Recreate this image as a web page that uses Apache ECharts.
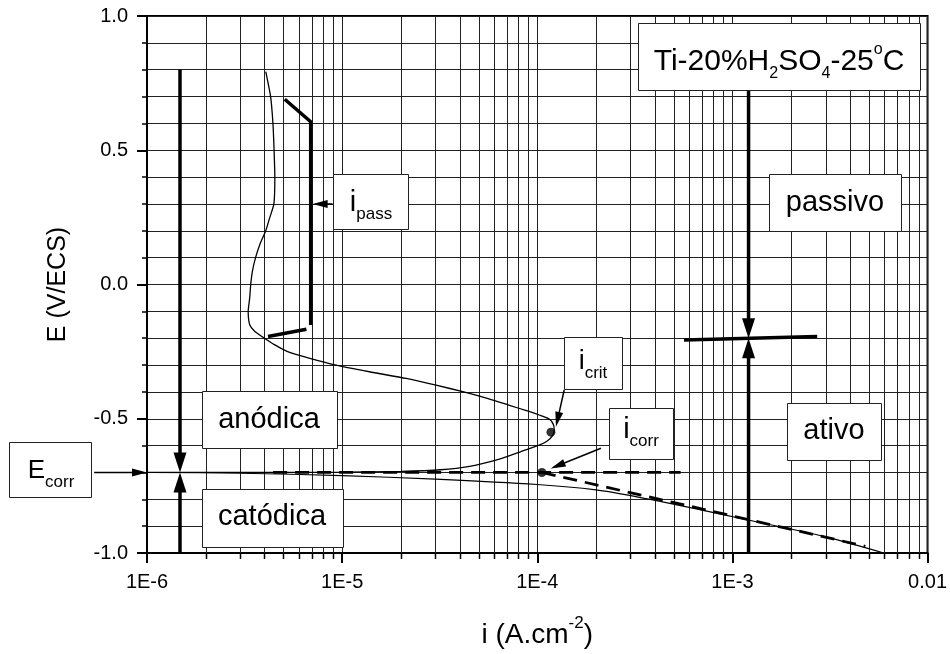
<!DOCTYPE html>
<html>
<head>
<meta charset="utf-8">
<script src="https://cdn.jsdelivr.net/npm/echarts@6/dist/echarts.min.js"></script>
<style>
html, body { margin: 0; padding: 0; background: #fff; }
#chart { width: 950px; height: 654px; }
</style>
</head>
<body>
<div id="chart"></div>
<script>
// Anodic branch of the polarization curve, from E_corr up through the passive region
const anodicI = [1.0e-6, 5.0e-6, 1.0e-5, 2.0e-5, 3.2e-5, 4.5e-5, 6.4e-5, 8.2e-5, 1.023e-4, 1.125e-4, 1.195e-4,
  1.222e-4, 1.207e-4, 1.151e-4, 1.023e-4, 8.8e-5, 7.2e-5, 5.6e-5, 4.2e-5, 3.03e-5, 2.13e-5, 1.38e-5, 9.3e-6,
  6.83e-6, 5.26e-6, 4.52e-6, 4.0e-6, 3.57e-6, 3.36e-6, 3.3e-6, 3.36e-6, 3.4e-6, 3.47e-6, 3.6e-6, 3.79e-6,
  4.06e-6, 4.26e-6, 4.47e-6, 4.52e-6, 4.48e-6, 4.42e-6, 4.3e-6, 4.06e-6];
const anodicE = [-0.700, -0.700, -0.699, -0.696, -0.690, -0.677, -0.650, -0.623, -0.598, -0.583, -0.564,
  -0.542, -0.520, -0.501, -0.486, -0.470, -0.450, -0.425, -0.400, -0.375, -0.350, -0.325, -0.300,
  -0.275, -0.250, -0.225, -0.200, -0.175, -0.150, -0.100, -0.050, 0.000, 0.050, 0.100, 0.150,
  0.200, 0.250, 0.300, 0.400, 0.500, 0.600, 0.700, 0.793];

// Cathodic branch, from E_corr down to -1.0 V
const cathodicI = [1.0e-6, 3.0e-6, 1.0e-5, 3.0e-5, 1.0e-4, 2.0e-4, 3.2e-4, 6.0e-4, 1.2e-3, 3.0e-3, 5.96e-3];
const cathodicE = [-0.700, -0.703, -0.712, -0.725, -0.745, -0.765, -0.790, -0.830, -0.877, -0.940, -1.000];

// Tafel extrapolations (dashed)
const tafelFlatI = [4.43e-6, 5.43e-4];
const tafelFlatE = [-0.700, -0.700];
const tafelCathI = [1.056e-4, 4.8e-3];
const tafelCathE = [-0.700, -0.975];

// Marked points: i_crit and i_corr
const critI = [1.175e-4];
const critE = [-0.550];
const corrI = [1.056e-4];
const corrE = [-0.700];

// i_pass construction lines
const passLineI = [5.08e-6, 6.9e-6, 6.9e-6];
const passLineE = [0.690, 0.606, -0.151];
const passBaseI = [4.17e-6, 6.56e-6];
const passBaseE = [-0.194, -0.167];

// active / passive boundary marker
const boundaryI = [5.65e-4, 2.72e-3];
const boundaryE = [-0.207, -0.194];

// Arrows [i_from, E_from, i_to, E_to]
const bigArrows = [
  [1.476e-6, 0.800, 1.476e-6, -0.700],
  [1.476e-6, -1.000, 1.476e-6, -0.700],
  [1.21e-3, 0.750, 1.21e-3, -0.200],
  [1.21e-3, -1.000, 1.21e-3, -0.200]
];
const smallArrows = [
  [8.93e-6, 0.300, 7.06e-6, 0.300],
  [1.374e-4, -0.393, 1.247e-4, -0.530],
  [2.12e-4, -0.610, 1.172e-4, -0.685],
  [5.36e-7, -0.700, 1.0e-6, -0.700]
];

// Axis tick labels
const xTickLabels = ['1E-6', '1E-5', '1E-4', '1E-3', '0.01'];
const yTickLabels = ['-1.0', '-0.5', '0.0', '0.5', '1.0'];
const decades = [1e-6, 1e-5, 1e-4, 1e-3];
const minorSteps = [2, 3, 4, 5, 6, 7, 8, 9];

const FONT = '"Liberation Sans", Arial, Helvetica, sans-serif';

function pairs(xs, ys) { return xs.map(function (x, k) { return [x, ys[k]]; }); }

const minorX = [];
decades.forEach(function (d) { minorSteps.forEach(function (m) { minorX.push([m * d, 0]); }); });

function richSet(main, sub, subLH, supLH) {
  return {
    m: { fontSize: main, fontFamily: FONT, lineHeight: 40, verticalAlign: 'middle', fill: '#000' },
    s: { fontSize: sub, fontFamily: FONT, lineHeight: subLH, verticalAlign: 'bottom', fill: '#000' },
    p: { fontSize: sub, fontFamily: FONT, lineHeight: supLH, verticalAlign: 'top', fill: '#000' }
  };
}

function box(x, y, w, h, text, cx, cy, rich) {
  return {
    type: 'group', z: 100,
    children: [
      { type: 'rect', z: 100, shape: { x: x + 0.5, y: y + 0.5, width: w, height: h },
        style: { fill: '#fff', stroke: '#222', lineWidth: 1 } },
      { type: 'text', z: 101, x: cx, y: cy,
        style: { text: text, rich: rich, align: 'center', verticalAlign: 'middle',
                 textAlign: 'center', textVerticalAlign: 'middle', fill: '#000',
                 fontFamily: FONT, fontSize: 29 } }
    ]
  };
}

function arrowSeries(data, lw, hl, hw) {
  return {
    type: 'custom', coordinateSystem: 'cartesian2d', clip: false, silent: true, z: 6,
    data: data, encode: { x: [0, 2], y: [1, 3] },
    renderItem: function (params, api) {
      const p0 = api.coord([api.value(0), api.value(1)]);
      const p1 = api.coord([api.value(2), api.value(3)]);
      const dx = p1[0] - p0[0], dy = p1[1] - p0[1];
      const len = Math.sqrt(dx * dx + dy * dy);
      const ux = dx / len, uy = dy / len;
      const bx = p1[0] - ux * hl, by = p1[1] - uy * hl;
      return {
        type: 'group',
        children: [
          { type: 'line', shape: { x1: p0[0], y1: p0[1], x2: bx + ux, y2: by + uy },
            style: { stroke: '#000', lineWidth: lw } },
          { type: 'polygon', shape: { points: [[p1[0], p1[1]],
              [bx - uy * hw / 2, by + ux * hw / 2], [bx + uy * hw / 2, by - ux * hw / 2]] },
            style: { fill: '#000' } }
        ]
      };
    }
  };
}

const chart = echarts.init(document.getElementById('chart'), null, { renderer: 'canvas' });

const option = {
  animation: false,
  backgroundColor: '#fff',
  grid: { left: 147, right: 21, top: 16, bottom: 101, show: true, borderColor: '#000', borderWidth: 2, backgroundColor: 'transparent' },
  xAxis: {
    type: 'log', logBase: 10, min: 1e-6, max: 1e-2,
    name: '{a|i (A.cm}{b|-2}{a|)}', nameLocation: 'middle', nameGap: 62,
    nameTextStyle: { rich: {
      a: { fontSize: 28, fontFamily: FONT, color: '#000', lineHeight: 40, verticalAlign: 'middle' },
      b: { fontSize: 17, fontFamily: FONT, color: '#000', lineHeight: 26, verticalAlign: 'top' }
    } },
    axisLine: { show: true, onZero: false, lineStyle: { color: '#000', width: 2 } },
    axisTick: { show: true, inside: false, length: 10, lineStyle: { color: '#000', width: 2 } },
    axisLabel: { margin: 19, fontSize: 20, fontFamily: FONT, color: '#000',
      formatter: function (v) { return xTickLabels[Math.round(Math.log10(v)) + 6]; } },
    splitLine: { show: true, lineStyle: { color: '#222', width: 1 } },
    minorTick: { show: false }, minorSplitLine: { show: false }
  },
  yAxis: {
    type: 'value', min: -1, max: 1, interval: 0.5,
    name: 'E (V/ECS)', nameLocation: 'middle', nameGap: 76,
    nameTextStyle: { fontSize: 25, fontFamily: FONT, color: '#000' },
    axisLine: { show: true, onZero: false, lineStyle: { color: '#000', width: 2 } },
    axisTick: { show: true, inside: false, length: 10, lineStyle: { color: '#000', width: 2 } },
    minorTick: { show: true, splitNumber: 5, length: 5, lineStyle: { color: '#000', width: 1.5 } },
    axisLabel: { margin: 19, fontSize: 20, fontFamily: FONT, color: '#000',
      formatter: function (v) { return yTickLabels[Math.round((v + 1) / 0.5)]; } },
    splitLine: { show: true, lineStyle: { color: '#222', width: 1 } },
    minorSplitLine: { show: true, lineStyle: { color: '#222', width: 1 } }
  },
  series: [
    {
      // minor logarithmic grid lines and their ticks
      type: 'custom', coordinateSystem: 'cartesian2d', clip: false, silent: true, z: 1,
      data: minorX, encode: { x: 0, y: 1 },
      renderItem: function (params, api) {
        const top = api.coord([api.value(0), 1]);
        const bot = api.coord([api.value(0), -1]);
        const x = Math.round(top[0]) + 0.5;
        return {
          type: 'group',
          children: [
            { type: 'line', shape: { x1: x, y1: top[1], x2: x, y2: bot[1] }, style: { stroke: '#222', lineWidth: 1 } },
            { type: 'line', shape: { x1: x, y1: bot[1], x2: x, y2: bot[1] + 6 }, style: { stroke: '#000', lineWidth: 1.5 } }
          ]
        };
      }
    },
    { type: 'line', data: pairs(anodicI, anodicE), showSymbol: false, smooth: 0.2, z: 3,
      lineStyle: { color: '#000', width: 1.3 } },
    { type: 'line', data: pairs(cathodicI, cathodicE), showSymbol: false, smooth: 0.3, z: 3,
      lineStyle: { color: '#000', width: 1.1 } },
    { type: 'line', data: pairs(tafelFlatI, tafelFlatE), showSymbol: false, z: 4,
      lineStyle: { color: '#000', width: 2.8, type: [14, 8] } },
    { type: 'line', data: pairs(tafelCathI, tafelCathE), showSymbol: false, z: 4,
      lineStyle: { color: '#000', width: 2.8, type: [14, 8] } },
    { type: 'line', data: pairs(passLineI, passLineE), showSymbol: false, z: 4,
      lineStyle: { color: '#000', width: 3.5, cap: 'butt', join: 'miter' } },
    { type: 'line', data: pairs(passBaseI, passBaseE), showSymbol: false, z: 4,
      lineStyle: { color: '#000', width: 3.5 } },
    { type: 'line', data: pairs(boundaryI, boundaryE), showSymbol: false, z: 4,
      lineStyle: { color: '#000', width: 3.5 } },
    arrowSeries(bigArrows, 3.5, 20, 13),
    arrowSeries(smallArrows, 1.5, 15, 8),
    { type: 'scatter', data: pairs(critI, critE).concat(pairs(corrI, corrE)), symbol: 'circle', symbolSize: 9,
      itemStyle: { color: '#000' }, z: 7, silent: true }
  ],
  graphic: [
    box(638, 23, 282, 67, '{m|Ti-20%H}{s|2}{m|SO}{s|4}{m|-25}{p|o}{m|C}', 779, 62, richSet(30, 16, 9, 28)),
    box(769, 174, 132, 57, '{m|passivo}', 835, 203, richSet(29, 17, 12, 28)),
    box(787, 403, 94, 57, '{m|ativo}', 834, 431, richSet(29, 17, 12, 28)),
    box(564, 337, 58, 52, '{m|i}{s|crit}', 593, 362, richSet(27, 17, 12, 28)),
    box(609, 408, 64, 51, '{m|i}{s|corr}', 641, 430, richSet(29, 17, 12, 28)),
    box(202, 391, 135, 57, '{m|anódica}', 269, 420, richSet(29, 17, 12, 28)),
    box(202, 489, 141, 58, '{m|catódica}', 272, 517, richSet(29, 17, 12, 28)),
    box(333, 174, 75, 55, '{m|i}{s|pass}', 371, 203, richSet(29, 17, 12, 28)),
    box(9, 442, 82, 55, '{m|E}{s|corr}', 51, 471, richSet(26, 17, 13, 28))
  ]
};

chart.setOption(option);
</script>
</body>
</html>
